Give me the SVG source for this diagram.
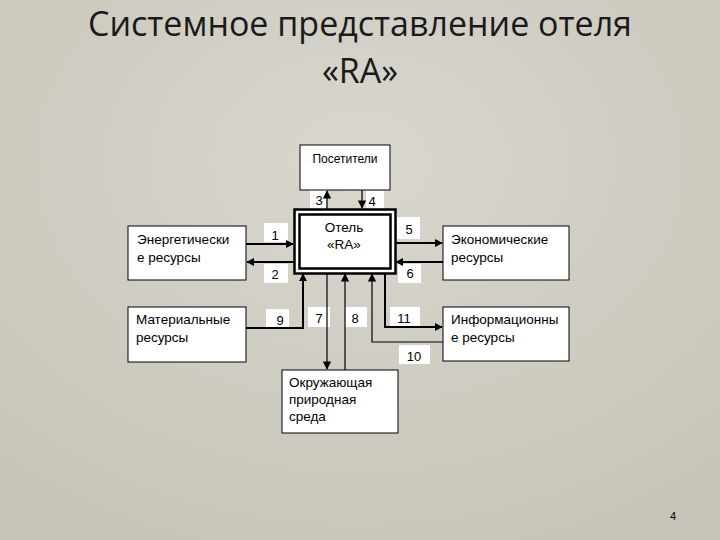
<svg xmlns="http://www.w3.org/2000/svg" width="720" height="540" viewBox="0 0 720 540">
<defs>
<radialGradient id="bg" cx="0.5" cy="0.3" r="0.8">
<stop offset="0" stop-color="#d9d7ce"/>
<stop offset="1" stop-color="#c6c4b8"/>
</radialGradient>
<marker id="ah" viewBox="0 0 10 10" refX="9" refY="5" markerWidth="4" markerHeight="4" orient="auto" markerUnits="strokeWidth">
<path d="M0,0 L10,5 L0,10 z" fill="#000"/>
</marker>
<marker id="ah1" viewBox="0 0 10 10" refX="9" refY="5" markerWidth="7" markerHeight="7" orient="auto" markerUnits="strokeWidth">
<path d="M0,0 L10,5 L0,10 z" fill="#000"/>
</marker>
<style>
.box{fill:#fff;stroke:#000;stroke-width:1}
.t{font-family:"Liberation Sans",Arial,sans-serif;font-size:13.5px;fill:#000}
.n{font-family:"Liberation Sans",Arial,sans-serif;font-size:13px;fill:#000;text-anchor:middle}
.lb{fill:#fff}
.thick{stroke:#000;stroke-width:2;fill:none;marker-end:url(#ah)}
.thin{stroke:#000;stroke-width:1.2;fill:none;marker-end:url(#ah1)}
.title{font-family:"Open Sans","Noto Sans",sans-serif;font-size:34px;fill:#1a1a1a;text-anchor:middle}
</style>
</defs>
<rect width="720" height="540" fill="url(#bg)"/>
<g id="title">
<text class="title" x="360" y="36">Системное представление отеля</text>
<text class="title" x="360" y="83">«RA»</text>
</g>
<g id="labels">
<rect class="lb" x="310" y="190" width="16" height="19"/>
<rect class="lb" x="366" y="191" width="18" height="18"/>
<rect class="lb" x="264" y="223" width="24" height="19"/>
<rect class="lb" x="264" y="264" width="24" height="19"/>
<rect class="lb" x="397" y="217" width="23" height="22"/>
<rect class="lb" x="398" y="264" width="23" height="19"/>
<rect class="lb" x="266" y="309" width="23" height="20"/>
<rect class="lb" x="308" y="307" width="22" height="20"/>
<rect class="lb" x="345" y="307" width="22" height="20"/>
<rect class="lb" x="390" y="307" width="30" height="19"/>
<rect class="lb" x="399" y="345" width="31" height="19"/>
<text class="n" x="319" y="205">3</text>
<text class="n" x="372" y="206">4</text>
<text class="n" x="275" y="240">1</text>
<text class="n" x="275" y="279">2</text>
<text class="n" x="409" y="234">5</text>
<text class="n" x="410" y="278">6</text>
<text class="n" x="280" y="325">9</text>
<text class="n" x="319" y="323">7</text>
<text class="n" x="355" y="323">8</text>
<text class="n" x="404" y="323">11</text>
<text class="n" x="414" y="361">10</text>
</g>
<g id="connectors">
<line class="thin" x1="327" y1="209" x2="327" y2="191"/>
<line class="thin" x1="362" y1="190" x2="362" y2="208"/>
<line class="thick" x1="246" y1="244" x2="293" y2="244"/>
<line class="thick" x1="294" y1="262" x2="247" y2="262"/>
<line class="thick" x1="395" y1="243" x2="442" y2="243"/>
<line class="thick" x1="443" y1="262" x2="396" y2="262"/>
<polyline class="thick" points="246,328 303,328 303,274"/>
<line class="thin" x1="327" y1="273" x2="327" y2="369"/>
<line class="thin" x1="345" y1="370" x2="345" y2="274"/>
<polyline class="thick" points="385,273 385,327 442,327"/>
<polyline class="thin" points="443,342 372,342 372,274"/>
</g>
<g id="visitors">
<rect class="box" x="300" y="145" width="90" height="45"/>
<text class="t" x="345" y="163" text-anchor="middle" style="font-size:12px">Посетители</text>
</g>
<g id="hotel">
<rect x="294.5" y="209.5" width="101" height="64" fill="#fff" stroke="#000" stroke-width="2.5"/>
<rect x="299.5" y="214.5" width="91" height="54" fill="#fff" stroke="#000" stroke-width="2.5"/>
<text class="t" x="344" y="232" text-anchor="middle">Отель</text>
<text class="t" x="344" y="249" text-anchor="middle">«RA»</text>
</g>
<g id="energy">
<rect class="box" x="128" y="226" width="118" height="54"/>
<text class="t" x="137" y="244">Энергетически</text>
<text class="t" x="137" y="262">е ресурсы</text>
</g>
<g id="material">
<rect class="box" x="128" y="307" width="118" height="55"/>
<text class="t" x="136" y="324">Материальные</text>
<text class="t" x="136" y="342">ресурсы</text>
</g>
<g id="economic">
<rect class="box" x="443" y="226" width="126" height="54"/>
<text class="t" x="451" y="244">Экономические</text>
<text class="t" x="451" y="262">ресурсы</text>
</g>
<g id="info">
<rect class="box" x="443" y="307" width="126" height="54"/>
<text class="t" x="451" y="324">Информационны</text>
<text class="t" x="451" y="342">е ресурсы</text>
</g>
<g id="environment">
<rect class="box" x="282" y="370" width="116" height="63"/>
<text class="t" x="289" y="387">Окружающая</text>
<text class="t" x="289" y="404">природная</text>
<text class="t" x="289" y="421">среда</text>
</g>
<text x="673" y="520" style="font-family:'Liberation Sans',Arial,sans-serif;font-size:11px;fill:#000" text-anchor="middle">4</text>
</svg>
